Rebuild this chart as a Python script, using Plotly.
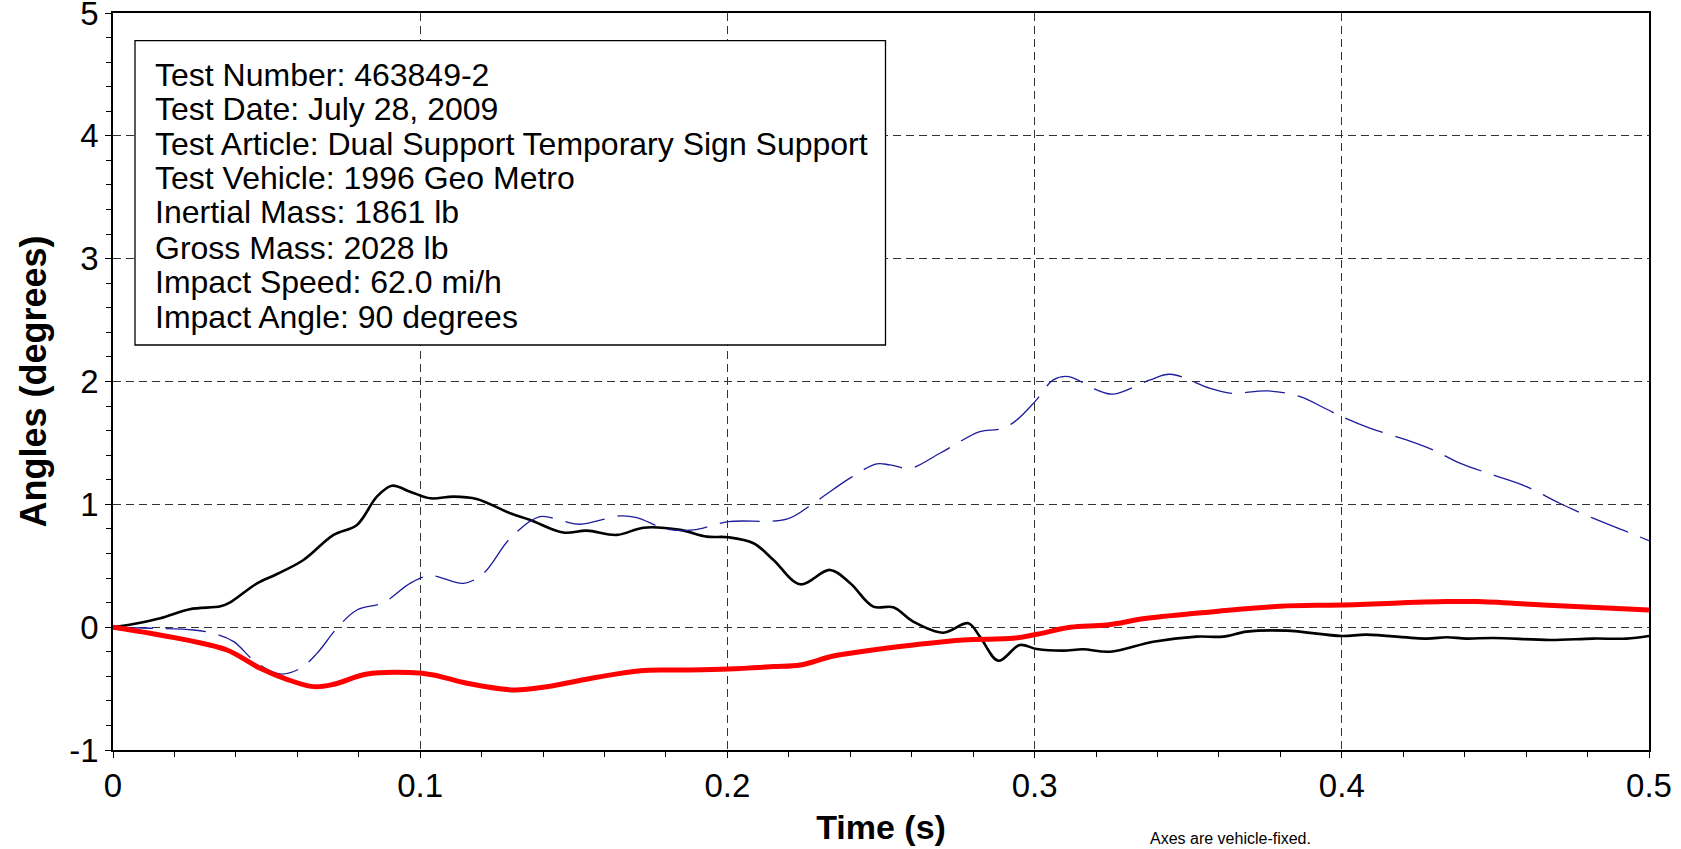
import plotly.graph_objects as go

# angular displacement traces (time in s, angle in degrees)
roll_t = [0, 0.0067, 0.0154, 0.025, 0.035, 0.038, 0.0469, 0.0534, 0.062, 0.0718, 0.0794, 0.0859,
          0.0908, 0.0967, 0.1033, 0.1108, 0.1184, 0.1293, 0.1358, 0.1466, 0.1542, 0.164, 0.1727,
          0.1846, 0.1933, 0.2003, 0.2085, 0.215, 0.2237, 0.2334, 0.24, 0.2475, 0.254, 0.2605,
          0.2703, 0.2784, 0.2822, 0.2882, 0.2952, 0.3007, 0.3093, 0.3158, 0.3245, 0.3386, 0.3527,
          0.3614, 0.369, 0.382, 0.4, 0.408, 0.4276, 0.4341, 0.4406, 0.4493, 0.4677, 0.4818,
          0.4927, 0.5]
roll_v = [0, 0.026, 0.072, 0.146, 0.170, 0.200, 0.357, 0.433, 0.547, 0.751, 0.832, 1.063,
          1.152, 1.103, 1.049, 1.063, 1.044, 0.927, 0.873, 0.770, 0.786, 0.751, 0.810,
          0.792, 0.737, 0.732, 0.683, 0.547, 0.349, 0.466, 0.357, 0.167, 0.162, 0.045,
          -0.045, 0.032, -0.077, -0.273, -0.145, -0.178, -0.191, -0.180, -0.200, -0.118, -0.077,
          -0.077, -0.036, -0.028, -0.072, -0.061, -0.093, -0.082, -0.093, -0.088, -0.104, -0.093,
          -0.093, -0.072]

pitch_t = [0, 0.0122, 0.0262, 0.0338, 0.0393, 0.0469, 0.0545, 0.061, 0.0664, 0.0729, 0.0794,
           0.0881, 0.0967, 0.1033, 0.1141, 0.1206, 0.1293, 0.139, 0.1461, 0.1521, 0.1651, 0.1705,
           0.1803, 0.1889, 0.2003, 0.2193, 0.228, 0.2399, 0.2486, 0.2529, 0.2595, 0.2692, 0.2822,
           0.2882, 0.2931, 0.3001, 0.3061, 0.311, 0.3202, 0.3256, 0.3376, 0.3441, 0.3571, 0.3636,
           0.3761, 0.3864, 0.3951, 0.4, 0.4091, 0.4211, 0.4297, 0.4384, 0.4493, 0.4601, 0.4709,
           0.4818, 0.4948, 0.5]
pitch_v = [0, -0.009, -0.023, -0.058, -0.118, -0.294, -0.381, -0.335, -0.213, -0.009, 0.14,
           0.2, 0.357, 0.42, 0.357, 0.439, 0.724, 0.9, 0.865, 0.838, 0.906, 0.892,
           0.797, 0.792, 0.859, 0.879, 1.009, 1.213, 1.329, 1.321, 1.294, 1.416, 1.592,
           1.611, 1.665, 1.836, 2.013, 2.04, 1.932, 1.897, 2.013, 2.059, 1.945, 1.905,
           1.923, 1.877, 1.774, 1.714, 1.62, 1.524, 1.443, 1.335, 1.239, 1.144, 1.009,
           0.887, 0.757, 0.704]

yaw_t = [0, 0.0122, 0.025, 0.0371, 0.0479, 0.0566, 0.0653, 0.0718, 0.0827, 0.0967, 0.1043,
         0.1152, 0.1304, 0.1412, 0.1575, 0.1716, 0.1846, 0.2003, 0.215, 0.2237, 0.2345, 0.2497,
         0.2605, 0.2768, 0.2931, 0.3007, 0.3116, 0.3235, 0.3365, 0.3582, 0.3799, 0.4, 0.4341,
         0.4439, 0.4655, 0.5]
yaw_v = [0, -0.05, -0.11, -0.186, -0.335, -0.425, -0.484, -0.465, -0.381, -0.37, -0.389,
         -0.457, -0.511, -0.485, -0.408, -0.354, -0.349, -0.34, -0.321, -0.308, -0.235, -0.178,
         -0.145, -0.104, -0.091, -0.058, -0.001, 0.018, 0.072, 0.126, 0.170, 0.181, 0.208,
         0.208, 0.181, 0.14]

x_ticks = [0, 0.1, 0.2, 0.3, 0.4, 0.5]
y_ticks = [-1, 0, 1, 2, 3, 4, 5]

info_lines = [
    'Test Number: 463849-2',
    'Test Date: July 28, 2009',
    'Test Article: Dual Support Temporary Sign Support',
    'Test Vehicle: 1996 Geo Metro',
    'Inertial Mass: 1861 lb',
    'Gross Mass: 2028 lb',
    'Impact Speed: 62.0 mi/h',
    'Impact Angle: 90 degrees',
]

FONT = 'Liberation Sans, Arial, sans-serif'
W, H = 1681, 849
L, R, T, B = 113, 32, 13, 99
plot_w, plot_h = W - L - R, H - T - B


def px_x(p):
    return (p - L) / plot_w


def px_y(p):
    return (H - B - p) / plot_h


fig = go.Figure()
fig.add_trace(go.Scatter(name='roll', x=roll_t, y=roll_v, mode='lines',
                         line={'color': 'black', 'width': 2.6, 'shape': 'spline'}))
fig.add_trace(go.Scatter(name='pitch', x=pitch_t, y=pitch_v, mode='lines',
                         line={'color': '#1c1c9c', 'width': 1.3, 'shape': 'spline',
                               'dash': '40px,13px'}))
fig.add_trace(go.Scatter(name='yaw', x=yaw_t, y=yaw_v, mode='lines',
                         line={'color': '#ff0000', 'width': 5, 'shape': 'spline'}))

axis_common = dict(
    showline=True, linecolor='black', linewidth=1.5, mirror=True,
    showgrid=True, gridcolor='#333333', gridwidth=1, griddash='8px,5px',
    zeroline=False, ticks='outside', ticklen=6, tickcolor='black',
    tickfont={'family': FONT, 'size': 33, 'color': 'black'},
    ticklabeloverflow='allow', automargin=False,
)

fig.update_xaxes(range=[0, 0.5], tickmode='array', tickvals=x_ticks,
                 ticktext=['{:g}'.format(v) for v in x_ticks],
                 minor={'dtick': 0.02, 'tick0': 0, 'ticks': 'outside', 'ticklen': 5,
                        'tickcolor': 'black', 'showgrid': False},
                 title={'text': '<b>Time (s)</b>', 'standoff': 12,
                        'font': {'family': FONT, 'size': 34, 'color': 'black'}},
                 **axis_common)
fig.update_yaxes(range=[-1, 5], tickmode='array', tickvals=y_ticks,
                 ticktext=['{:g}'.format(v) for v in y_ticks],
                 minor={'dtick': 0.2, 'tick0': 0, 'ticks': 'outside', 'ticklen': 5,
                        'tickcolor': 'black', 'showgrid': False},
                 title={'text': '<b>Angles (degrees)</b>', 'standoff': 12,
                        'font': {'family': FONT, 'size': 36, 'color': 'black'}},
                 **axis_common)

# info box
fig.add_shape(type='rect', xref='paper', yref='paper',
              x0=px_x(135), x1=px_x(885.5), y0=px_y(345), y1=px_y(40.7),
              line={'color': 'black', 'width': 1.3}, fillcolor='white', layer='above')

line_centers = [75, 109.4, 143.7, 178, 212.3, 247.6, 282, 317.3]
for txt, cy in zip(info_lines, line_centers):
    fig.add_annotation(text=txt, xref='paper', yref='paper', x=px_x(153), y=px_y(cy),
                       xanchor='left', yanchor='middle', showarrow=False,
                       font={'family': FONT, 'size': 32, 'color': 'black'})

# note below the chart (the reference only shows its top edge)
fig.add_annotation(text='Axes are vehicle-fixed.', xref='paper', yref='paper',
                   x=px_x(1148), y=px_y(849), xanchor='left', yanchor='bottom', showarrow=False,
                   font={'family': FONT, 'size': 16, 'color': 'black'})

fig.update_layout(
    width=W, height=H,
    margin={'l': L, 'r': R, 't': T, 'b': B},
    plot_bgcolor='white', paper_bgcolor='white',
    showlegend=False,
    font={'family': FONT, 'color': 'black'},
)

# drop the default page margin so the figure sits at the window's top-left corner
fig.write_html('out.html', config={'displayModeBar': False},
               post_script="document.body.style.margin = '0px';")
